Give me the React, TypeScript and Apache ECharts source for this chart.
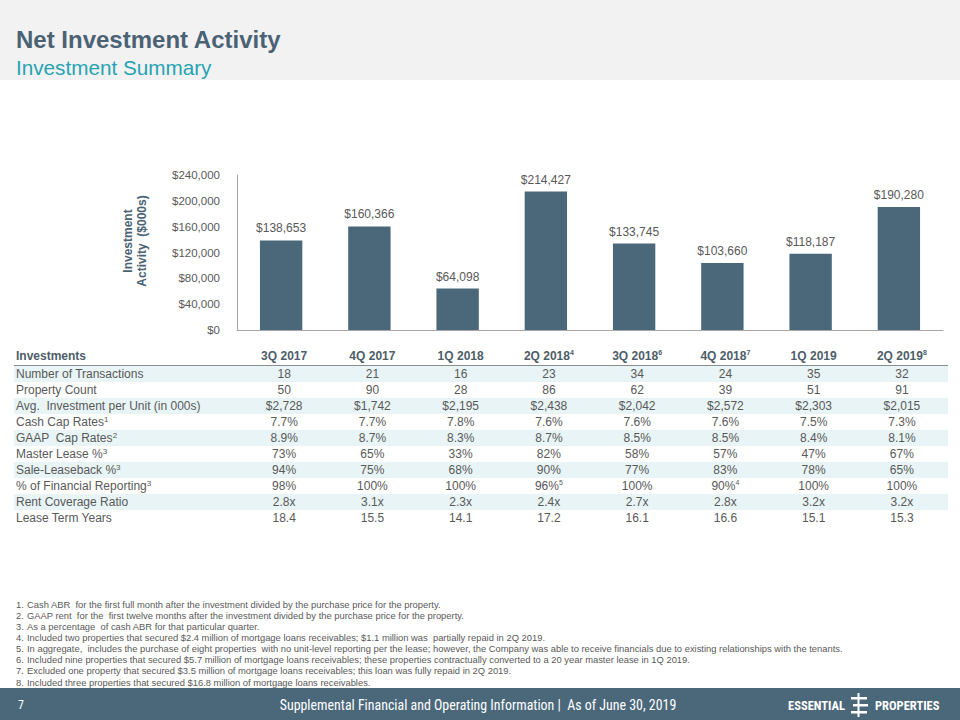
import React, { useEffect, useRef } from "react";
import * as echarts from "echarts";

// ---------- data ----------
const quarters = ["3Q 2017", "4Q 2017", "1Q 2018", "2Q 2018", "3Q 2018", "4Q 2018", "1Q 2019", "2Q 2019"];
const quarterNotes = ["", "", "", "4", "6", "7", "", "8"];
const investmentActivity = [138653, 160366, 64098, 214427, 133745, 103660, 118187, 190280];
const yMin = 0;
const yMax = 240000;
const yInterval = 40000;

const numTransactions = ["18", "21", "16", "23", "34", "24", "35", "32"];
const propertyCount = ["50", "90", "28", "86", "62", "39", "51", "91"];
const avgInvestment = ["$2,728", "$1,742", "$2,195", "$2,438", "$2,042", "$2,572", "$2,303", "$2,015"];
const cashCapRates = ["7.7%", "7.7%", "7.8%", "7.6%", "7.6%", "7.6%", "7.5%", "7.3%"];
const gaapCapRates = ["8.9%", "8.7%", "8.3%", "8.7%", "8.5%", "8.5%", "8.4%", "8.1%"];
const masterLease = ["73%", "65%", "33%", "82%", "58%", "57%", "47%", "67%"];
const saleLeaseback = ["94%", "75%", "68%", "90%", "77%", "83%", "78%", "65%"];
const financialReporting = ["98%", "100%", "100%", "96%", "100%", "90%", "100%", "100%"];
const financialReportingNotes = ["", "", "", "5", "", "4", "", ""];
const rentCoverage = ["2.8x", "3.1x", "2.3x", "2.4x", "2.7x", "2.8x", "3.2x", "3.2x"];
const leaseTermYears = ["18.4", "15.5", "14.1", "17.2", "16.1", "16.6", "15.1", "15.3"];

const rowLabels = [
  "Number of Transactions",
  "Property Count",
  "Avg.  Investment per Unit (in 000s)",
  "Cash Cap Rates",
  "GAAP  Cap Rates",
  "Master Lease %",
  "Sale-Leaseback %",
  "% of Financial Reporting",
  "Rent Coverage Ratio",
  "Lease Term Years",
];
const rowLabelNotes = ["", "", "", "1", "2", "3", "3", "3", "", ""];
const rowValues = [
  numTransactions,
  propertyCount,
  avgInvestment,
  cashCapRates,
  gaapCapRates,
  masterLease,
  saleLeaseback,
  financialReporting,
  rentCoverage,
  leaseTermYears,
];
const emptyNotes = ["", "", "", "", "", "", "", ""];
const rowValueNotes = [emptyNotes, emptyNotes, emptyNotes, emptyNotes, emptyNotes, emptyNotes, emptyNotes, financialReportingNotes, emptyNotes, emptyNotes];

const footnotes = [
  "Cash ABR  for the first full month after the investment divided by the purchase price for the property.",
  "GAAP rent  for the  first twelve months after the investment divided by the purchase price for the property.",
  "As a percentage  of cash ABR for that particular quarter.",
  "Included two properties that secured $2.4 million of mortgage loans receivables; $1.1 million was  partially repaid in 2Q 2019.",
  "In aggregate,  includes the purchase of eight properties  with no unit-level reporting per the lease; however, the Company was able to receive financials due to existing relationships with the tenants.",
  "Included nine properties that secured $5.7 million of mortgage loans receivables; these properties contractually converted to a 20 year master lease in 1Q 2019.",
  "Excluded one property that secured $3.5 million of mortgage loans receivables; this loan was fully repaid in 2Q 2019.",
  "Included three properties that secured $16.8 million of mortgage loans receivables.",
];

const titleText = "Net Investment Activity";
const subtitleText = "Investment Summary";
const yAxisTitle = "Investment\nActivity  ($000s)";
const tableHeader = "Investments";
const pageNumber = "7";
const footerText = "Supplemental Financial and Operating Information |  As of June 30, 2019";
const logoLeft = "ESSENTIAL";
const logoRight = "PROPERTIES";

// ---------- styles ----------
const FONT = "'Liberation Sans', Arial, sans-serif";
const NARROW = "'Liberation Sans Narrow', 'Arial Narrow', 'Roboto Condensed', 'DejaVu Sans Condensed', sans-serif";
const SLATE = "#4b687b";
const GRAY = "#595959";
const HEAD = "#4d5d69";

function withNote(base: string, note: string) {
  return note ? `${base}{sup|${note}}` : base;
}

function text(x: number, y: number, t: string, o: any = {}) {
  const align = o.align || "left";
  const fontSize = o.fontSize || 12;
  const fontFamily = o.fontFamily || FONT;
  return {
    type: "text",
    x,
    y,
    rotation: o.rotation || 0,
    silent: true,
    z: 10,
    style: {
      text: t,
      fill: o.fill || GRAY,
      fontSize,
      fontFamily,
      fontWeight: o.fontWeight || "normal",
      lineHeight: o.lineHeight,
      align,
      textAlign: align,
      verticalAlign: "middle",
      textVerticalAlign: "middle",
      rich: {
        sup: {
          fontSize: o.supSize || 8,
          fontFamily,
          fontWeight: o.fontWeight || "normal",
          fill: o.fill || GRAY,
          verticalAlign: "top",
          lineHeight: fontSize + 2,
        },
      },
    },
  };
}

export default function App() {
  const ref = useRef<HTMLDivElement>(null);

  useEffect(() => {
    if (!ref.current) return;
    const chart = echarts.init(ref.current, undefined, { renderer: "svg" });

    chart.setOption({
      animation: false,
      backgroundColor: "#ffffff",
      grid: { left: 237, right: 17, top: 175, bottom: 390 },
      xAxis: {
        type: "category",
        data: quarters,
        axisLine: { show: true, lineStyle: { color: "#a6a6a6", width: 1 } },
        axisTick: { show: false },
        axisLabel: { show: false },
        splitLine: { show: false },
      },
      yAxis: {
        type: "value",
        min: yMin,
        max: yMax,
        interval: yInterval,
        axisLine: { show: true, lineStyle: { color: "#a6a6a6", width: 1 } },
        axisTick: { show: false },
        splitLine: { show: false },
        axisLabel: {
          margin: 17,
          color: GRAY,
          fontSize: 11.5,
          fontFamily: FONT,
          formatter: (v: number) => "$" + v.toLocaleString("en-US"),
        },
      },
      series: [
        {
          type: "bar",
          data: investmentActivity,
          barWidth: "48%",
          itemStyle: { color: SLATE },
          label: {
            show: true,
            position: "top",
            distance: 6,
            color: GRAY,
            fontSize: 12,
            fontFamily: FONT,
            formatter: (p: any) => "$" + Number(p.value).toLocaleString("en-US"),
          },
        },
      ],
    });

    const colX = quarters.map((_, i) => (chart.convertToPixel({ xAxisIndex: 0 }, i) as number) + 3);

    const els: any[] = [];
    // header band
    els.push({ type: "rect", shape: { x: 0, y: 0, width: 960, height: 80 }, style: { fill: "#f2f2f2" }, z: 1, silent: true });
    els.push(text(16, 39, titleText, { fontSize: 24, fontWeight: "bold", fill: "#4a6274" }));
    els.push(text(16, 67, subtitleText, { fontSize: 20.7, fill: "#26a3b3" }));

    // y-axis title
    els.push(
      text(135, 241, yAxisTitle, {
        fontSize: 12,
        fontWeight: "bold",
        fill: "#4a6274",
        align: "center",
        rotation: Math.PI / 2,
        lineHeight: 14,
      })
    );

    // table
    const headerY = 356;
    const rowY0 = 374;
    const rowH = 16;
    rowLabels.forEach((_, r) => {
      if (r % 2 === 0) {
        els.push({
          type: "rect",
          shape: { x: 14, y: rowY0 + r * rowH - rowH / 2, width: 934, height: rowH },
          style: { fill: "#e8f4f5" },
          z: 2,
          silent: true,
        });
      }
    });
    els.push({
      type: "line",
      shape: { x1: 14, y1: 365.5, x2: 948, y2: 365.5 },
      style: { stroke: "#8c8c8c", lineWidth: 1 },
      z: 3,
      silent: true,
    });
    els.push(text(16, headerY, tableHeader, { fontSize: 12, fontWeight: "bold", fill: HEAD }));
    quarters.forEach((q, i) => {
      els.push(text(colX[i], headerY, withNote(q, quarterNotes[i]), { fontSize: 12, fontWeight: "bold", fill: HEAD, align: "center", supSize: 7 }));
    });
    rowLabels.forEach((label, r) => {
      const y = rowY0 + r * rowH;
      els.push(text(16, y, withNote(label, rowLabelNotes[r]), { fontSize: 12 }));
      rowValues[r].forEach((v, i) => {
        els.push(text(colX[i], y, withNote(v, rowValueNotes[r][i]), { fontSize: 12, align: "center", supSize: 7 }));
      });
    });

    // footnotes
    footnotes.forEach((f, i) => {
      const y = 604 + i * 11.15;
      els.push(text(16, y, `${i + 1}.`, { fontSize: 9.4 }));
      els.push(text(27, y, f, { fontSize: 9.4 }));
    });

    // footer
    els.push({ type: "rect", shape: { x: 0, y: 688, width: 960, height: 32 }, style: { fill: SLATE }, z: 1, silent: true });
    els.push(text(18, 705, pageNumber, { fontSize: 12, fill: "#ffffff", fontFamily: NARROW }));
    els.push(text(478, 705, footerText, { fontSize: 13.9, fill: "#ffffff", fontFamily: NARROW, align: "center" }));
    els.push(text(845, 705, logoLeft, { fontSize: 12.5, fontWeight: "bold", fill: "#ffffff", fontFamily: NARROW, align: "right" }));
    els.push(text(875, 705, logoRight, { fontSize: 12.5, fontWeight: "bold", fill: "#ffffff", fontFamily: NARROW }));
    // logo mark
    els.push({ type: "rect", shape: { x: 857.5, y: 693, width: 2, height: 24 }, style: { fill: "#ffffff" }, z: 5, silent: true });
    [697, 704, 711].forEach((yy, k) => {
      els.push({
        type: "rect",
        shape: { x: k === 1 ? 853 : 851, y: yy, width: k === 1 ? 15 : 16, height: 2.5 },
        style: { fill: "#ffffff" },
        z: 5,
        silent: true,
      });
    });

    chart.setOption({ graphic: { elements: els } });

    return () => chart.dispose();
  }, []);

  return <div ref={ref} style={{ position: "absolute", left: 0, top: 0, width: 960, height: 720 }} />;
}
